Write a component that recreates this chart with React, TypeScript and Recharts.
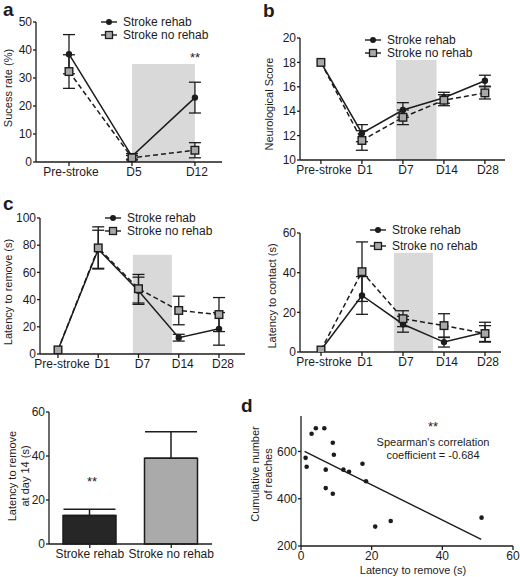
import React from "react";
import {
  ComposedChart,
  BarChart,
  Line,
  Bar,
  Scatter,
  XAxis,
  YAxis,
  ErrorBar,
  ReferenceArea,
  Legend,
  Cell,
} from "recharts";

const INK = "#1c1c1c";
const SHADE = "#d9d9d9";
const GREY = "#a8a8a8";
const FONT = "'Liberation Sans', Arial, Helvetica, sans-serif";

// a: skilled reaching success
const daysShort = ["Pre-stroke", "D5", "D12"];
const rehabA = [38.5, 2, 23];
const rehabErrA = [7, 1, 5.5];
const noRehabA = [32.3, 1.5, 4.2];
const noRehabErrA = [6, 0.8, 2.7];

// b: neurological score
const daysLong = ["Pre-stroke", "D1", "D7", "D14", "D28"];
const rehabB = [18, 12.2, 14.1, 15.1, 16.5];
const rehabErrB = [0, 0.7, 0.6, 0.45, 0.45];
const noRehabB = [18, 11.6, 13.5, 14.9, 15.5];
const noRehabErrB = [0, 0.8, 0.6, 0.45, 0.5];

// c left: latency to remove
const rehabC1 = [3, 77, 46.5, 12, 18.5];
const rehabErrC1 = [0, 14, 10, 2.5, 12];
const noRehabC1 = [3, 78, 48, 32, 29];
const noRehabErrC1 = [0, 15.5, 10.5, 10.5, 12.5];

// c right: latency to contact
const rehabC2 = [1, 28.5, 14, 5, 10];
const rehabErrC2 = [0, 9.5, 4, 2.5, 5];
const noRehabC2 = [1, 40.5, 16.8, 13.3, 9.3];
const noRehabErrC2 = [0, 15, 4, 6, 4];

// bar: latency at day 14
const groups = ["Stroke rehab", "Stroke no rehab"];
const day14Means = [13, 39];
const day14Sem = [2.8, 12];
const groupFills = ["#262626", "#aaaaaa"];

// d: correlation
const latency = [1.3, 1.6, 3.0, 4.2, 6.6, 7.0, 7.0, 9.0, 9.3, 9.0, 12.0, 13.6, 17.4, 18.4, 21.0, 25.4, 51.1];
const reaches = [573, 535, 675, 698, 698, 523, 445, 637, 586, 421, 523, 514, 548, 474, 282, 306, 320];
const fitX = [1, 51];
const fitY = [600, 228];

type Rect = { left: number; top: number; right: number; bottom: number };

const PAD = { l: 44, t: 12, r: 14, b: 28 };

function place(r: Rect) {
  return {
    left: r.left - PAD.l,
    top: r.top - PAD.t,
    width: r.right - r.left + PAD.l + PAD.r,
    height: r.bottom - r.top + PAD.t + PAD.b,
  };
}

const axisLine = { stroke: INK, strokeWidth: 1.3 };
const tickStyle = { fill: INK, fontSize: 12, fontFamily: FONT };

const CircleDot = (p: any) => (
  <circle key={`c${p.index}`} cx={p.cx} cy={p.cy} r={3.2} fill={INK} />
);
const SquareDot = (p: any) => (
  <rect
    key={`s${p.index}`}
    x={p.cx - 3.8}
    y={p.cy - 3.8}
    width={7.6}
    height={7.6}
    fill={GREY}
    stroke={INK}
    strokeWidth={1.4}
  />
);

function SeriesKey({ rowGap }: { rowGap: number }) {
  const rows = [
    { name: "Stroke rehab", square: false },
    { name: "Stroke no rehab", square: true },
  ];
  return (
    <div style={{ fontFamily: FONT, fontSize: 12, color: INK }}>
      {rows.map((r) => (
        <div key={r.name} style={{ display: "flex", alignItems: "center", height: rowGap, whiteSpace: "nowrap" }}>
          <svg width={16} height={10}>
            <line x1={0} y1={5} x2={16} y2={5} stroke={INK} strokeWidth={1.4} />
            {r.square ? (
              <rect x={4.5} y={1.5} width={7} height={7} fill={GREY} stroke={INK} strokeWidth={1.3} />
            ) : (
              <circle cx={8} cy={5} r={3} fill={INK} />
            )}
          </svg>
          <span style={{ marginLeft: 6 }}>{r.name}</span>
        </div>
      ))}
    </div>
  );
}

type LineProps = {
  rect: Rect;
  labels: string[];
  xDomain: [number, number];
  yDomain: [number, number];
  yTicks: number[];
  shade: [number, number, number];
  rehab: number[];
  rehabErr: number[];
  noRehab: number[];
  noRehabErr: number[];
  key0: { x: number; y: number; gap: number };
  labelShift: number;
};

function TimePanel(props: LineProps) {
  const { rect, labels } = props;
  const box = place(rect);
  const rows = labels.map((_, i) => ({
    x: i,
    rehab: props.rehab[i],
    rehabErr: props.rehabErr[i],
    noRehab: props.noRehab[i],
    noRehabErr: props.noRehabErr[i],
  }));
  return (
    <div style={{ position: "absolute", left: box.left, top: box.top }}>
      <ComposedChart
        width={box.width}
        height={box.height}
        data={rows}
        margin={{ top: PAD.t, right: PAD.r, bottom: 0, left: 0 }}
      >
        <ReferenceArea
          x1={props.shade[0]}
          x2={props.shade[1]}
          y1={props.yDomain[0]}
          y2={props.shade[2]}
          fill={SHADE}
          fillOpacity={1}
          stroke="none"
          ifOverflow="visible"
        />
        <XAxis
          type="number"
          dataKey="x"
          domain={props.xDomain}
          ticks={labels.map((_, i) => i)}
          tickFormatter={(v: number) => labels[v]}
          interval={0}
          allowDataOverflow
          height={PAD.b}
          axisLine={axisLine}
          tickLine={axisLine}
          tickSize={4}
          tickMargin={1}
          tick={{ ...tickStyle, dx: props.labelShift }}
        />
        <YAxis
          type="number"
          domain={props.yDomain}
          ticks={props.yTicks}
          allowDataOverflow
          width={PAD.l}
          axisLine={axisLine}
          tickLine={axisLine}
          tickSize={3}
          tickMargin={1}
          tick={tickStyle}
        />
        <Legend
          layout="vertical"
          align="center"
          verticalAlign="middle"
          content={() => <SeriesKey rowGap={props.key0.gap} />}
          wrapperStyle={{
            left: props.key0.x - 22 - box.left,
            top: props.key0.y - props.key0.gap / 2 - box.top,
            width: "auto",
          }}
        />
        <Line
          dataKey="rehab"
          stroke={INK}
          strokeWidth={1.5}
          dot={CircleDot}
          activeDot={false}
          isAnimationActive={false}
        >
          <ErrorBar dataKey="rehabErr" width={6} stroke={INK} strokeWidth={1.3} isAnimationActive={false} />
        </Line>
        <Line
          dataKey="noRehab"
          stroke={INK}
          strokeWidth={1.5}
          strokeDasharray="5 3"
          dot={SquareDot}
          activeDot={false}
          isAnimationActive={false}
        >
          <ErrorBar dataKey="noRehabErr" width={6} stroke={INK} strokeWidth={1.3} isAnimationActive={false} />
        </Line>
      </ComposedChart>
    </div>
  );
}

function Day14Bars() {
  const rect: Rect = { left: 49, top: 412, right: 212, bottom: 544 };
  const box = place(rect);
  const rows = groups.map((g, i) => ({ name: g, mean: day14Means[i], err: [0, day14Sem[i]] }));
  return (
    <div style={{ position: "absolute", left: box.left, top: box.top }}>
      <BarChart
        width={box.width}
        height={box.height}
        data={rows}
        margin={{ top: PAD.t, right: PAD.r, bottom: 0, left: 0 }}
      >
        <XAxis
          dataKey="name"
          height={PAD.b}
          axisLine={axisLine}
          tickLine={axisLine}
          tickSize={4}
          tickMargin={1}
          interval={0}
          tick={tickStyle}
        />
        <YAxis
          domain={[0, 60]}
          ticks={[0, 20, 40, 60]}
          width={PAD.l}
          axisLine={axisLine}
          tickLine={axisLine}
          tickSize={3}
          tickMargin={1}
          tick={tickStyle}
        />
        <Bar dataKey="mean" barSize={53} stroke={INK} strokeWidth={1.5} isAnimationActive={false}>
          {rows.map((r, i) => (
            <Cell key={r.name} fill={groupFills[i]} />
          ))}
          <ErrorBar dataKey="err" width={26} stroke={INK} strokeWidth={1.5} isAnimationActive={false} />
        </Bar>
      </BarChart>
    </div>
  );
}

function Correlation() {
  const rect: Rect = { left: 301, top: 416, right: 513, bottom: 546 };
  const box = place(rect);
  const points = latency.map((x, i) => ({ x, y: reaches[i] }));
  const fit = fitX.map((x, i) => ({ x, y: fitY[i] }));
  return (
    <div style={{ position: "absolute", left: box.left, top: box.top }}>
      <ComposedChart
        width={box.width}
        height={box.height}
        margin={{ top: PAD.t, right: PAD.r, bottom: 0, left: 0 }}
      >
        <XAxis
          type="number"
          dataKey="x"
          domain={[0, 60]}
          ticks={[0, 20, 40, 60]}
          height={PAD.b}
          axisLine={axisLine}
          tickLine={axisLine}
          tickSize={4}
          tickMargin={1}
          tick={tickStyle}
        />
        <YAxis
          type="number"
          dataKey="y"
          domain={[200, 750]}
          ticks={[200, 400, 600]}
          width={PAD.l}
          axisLine={axisLine}
          tickLine={axisLine}
          tickSize={3}
          tickMargin={1}
          tick={tickStyle}
        />
        <Scatter
          data={fit}
          line={{ stroke: INK, strokeWidth: 1.4 }}
          shape={() => <g />}
          isAnimationActive={false}
        />
        <Scatter
          data={points}
          shape={(p: any) => <circle cx={p.cx} cy={p.cy} r={2.3} fill={INK} />}
          isAnimationActive={false}
        />
      </ComposedChart>
    </div>
  );
}

function VLabel({ x, y, lines }: { x: number; y: number; lines: string[] }) {
  return (
    <div
      style={{
        position: "absolute",
        left: x,
        top: y,
        transform: "translate(-50%, -50%) rotate(-90deg)",
        whiteSpace: "nowrap",
        textAlign: "center",
        fontSize: 11,
        lineHeight: "13px",
      }}
    >
      {lines.map((l) => (
        <div key={l}>{l}</div>
      ))}
    </div>
  );
}

function Note({ x, y, text, size = 11 }: { x: number; y: number; text: string; size?: number }) {
  return (
    <div
      style={{
        position: "absolute",
        left: x,
        top: y,
        transform: "translate(-50%, -50%)",
        whiteSpace: "nowrap",
        fontSize: size,
        lineHeight: 1,
      }}
    >
      {text}
    </div>
  );
}

function Letter({ x, y, text }: { x: number; y: number; text: string }) {
  return (
    <div style={{ position: "absolute", left: x, top: y, fontSize: 19, fontWeight: 700, lineHeight: "19px" }}>
      {text}
    </div>
  );
}

export default function App() {
  return (
    <div
      style={{
        position: "absolute",
        left: 0,
        top: 0,
        width: 520,
        height: 577,
        background: "#fff",
        fontFamily: FONT,
        color: INK,
        overflow: "hidden",
      }}
    >
      <TimePanel
        rect={{ left: 36, top: 22, right: 222, bottom: 162 }}
        labels={daysShort}
        xDomain={[-0.524, 2.43]}
        yDomain={[0, 50]}
        yTicks={[0, 10, 20, 30, 40, 50]}
        shade={[1, 2, 35]}
        rehab={rehabA}
        rehabErr={rehabErrA}
        noRehab={noRehabA}
        noRehabErr={noRehabErrA}
        key0={{ x: 123, y: 22, gap: 13 }}
        labelShift={2}
      />
      <TimePanel
        rect={{ left: 300, top: 38, right: 505, bottom: 160 }}
        labels={daysLong}
        xDomain={[-0.51, 4.49]}
        yDomain={[10, 20]}
        yTicks={[10, 12, 14, 16, 18, 20]}
        shade={[1.83, 2.82, 18.2]}
        rehab={rehabB}
        rehabErr={rehabErrB}
        noRehab={noRehabB}
        noRehabErr={noRehabErrB}
        key0={{ x: 387, y: 40, gap: 13 }}
        labelShift={3}
      />
      <TimePanel
        rect={{ left: 40, top: 218, right: 245, bottom: 354 }}
        labels={daysLong}
        xDomain={[-0.447, 4.646]}
        yDomain={[0, 100]}
        yTicks={[0, 20, 40, 60, 80, 100]}
        shade={[1.86, 2.83, 73]}
        rehab={rehabC1}
        rehabErr={rehabErrC1}
        noRehab={noRehabC1}
        noRehabErr={noRehabErrC1}
        key0={{ x: 127, y: 218, gap: 13 }}
        labelShift={4}
      />
      <TimePanel
        rect={{ left: 300, top: 233, right: 501, bottom: 352 }}
        labels={daysLong}
        xDomain={[-0.512, 4.39]}
        yDomain={[0, 60]}
        yTicks={[0, 20, 40, 60]}
        shade={[1.78, 2.73, 50]}
        rehab={rehabC2}
        rehabErr={rehabErrC2}
        noRehab={noRehabC2}
        noRehabErr={noRehabErrC2}
        key0={{ x: 392, y: 230, gap: 16 }}
        labelShift={3}
      />
      <Day14Bars />
      <Correlation />

      <Letter x={3} y={0} text="a" />
      <Letter x={263} y={1} text="b" />
      <Letter x={3} y={194} text="c" />
      <Letter x={241} y={396} text="d" />

      <VLabel x={8} y={88} lines={["Sucess rate (%)"]} />
      <VLabel x={269} y={104} lines={["Neurological Score"]} />
      <VLabel x={8} y={292} lines={["Latency to remove (s)"]} />
      <VLabel x={272} y={296} lines={["Latency to contact (s)"]} />
      <VLabel x={19} y={476} lines={["Latency to remove", "at day 14 (s)"]} />
      <VLabel x={262} y={474} lines={["Cumulative number", "of reaches"]} />
      <Note x={413} y={570} text="Latency to remove (s)" />

      <Note x={195} y={57} text="**" size={13} />
      <Note x={92} y={481} text="**" size={13} />
      <Note x={433} y={426} text="**" size={13} />
      <Note x={433} y={442} text="Spearman's correlation" />
      <Note x={433} y={455} text="coefficient = -0.684" />
    </div>
  );
}
